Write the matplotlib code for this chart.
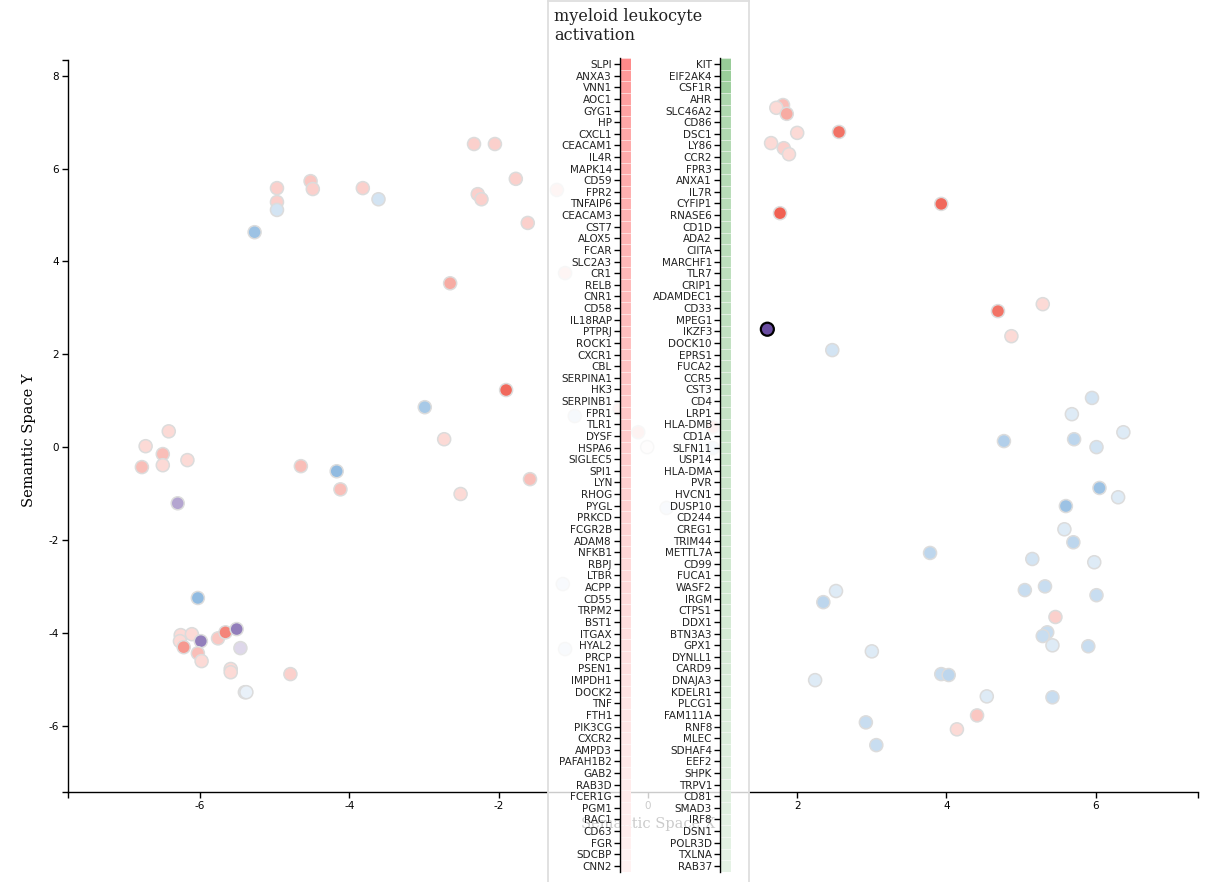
import matplotlib
matplotlib.use("Agg")
import matplotlib.pyplot as plt
import numpy as np

plt.rcParams["axes.unicode_minus"] = False

# ---------------- data ----------------
pt_x = [-4.97, -4.97, -4.97, -5.27, -4.52, -4.49, -3.82, -3.61, -2.33, -2.05,
        -1.77, -2.28, -2.23, -1.61, -2.65, -1.22, -1.11, -1.90, -2.99, -2.73,
        -4.65, -4.17, -4.12, -2.51, -1.58, -4.79, -0.98, -0.38, -0.13, -0.01,
        0.87, 0.87, 0.25, -1.14, -1.11,
        -6.73, -6.50, -6.78, -6.50, -6.17, -6.42, -6.30, -6.03, -6.26, -6.11,
        -6.27, -6.22, -5.99, -6.03, -5.98, -5.76, -5.66, -5.51, -5.46, -5.59,
        -5.59, -5.40, -5.38,
        1.81, 1.72, 1.86, 2.00, 2.56, 1.65, 1.82, 1.89, 1.77, 3.93,
        1.60, 2.47, 4.69, 5.29, 4.87,
        5.95, 5.68, 6.37, 4.77, 5.71, 6.01, 6.05, 6.30, 5.60, 5.58,
        5.70, 3.78, 5.15, 5.98, 2.52, 2.35, 5.05, 5.32, 6.01, 5.46,
        5.35, 5.29, 5.42, 5.90, 3.00, 2.24, 3.93, 4.03, 4.54, 5.42,
        4.41, 4.14, 2.92, 3.06]
pt_y = [5.58, 5.28, 5.11, 4.63, 5.73, 5.56, 5.58, 5.34, 6.53, 6.53,
        5.78, 5.45, 5.34, 4.83, 3.53, 5.54, 3.75, 1.23, 0.86, 0.17,
        -0.41, -0.52, -0.91, -1.01, -0.69, -4.89, 0.67, 0.82, 0.32, 0.00,
        0.43, -0.02, -1.31, -2.95, -4.35,
        0.02, -0.15, -0.43, -0.39, -0.28, 0.34, -1.21, -3.25, -4.05, -4.03,
        -4.18, -4.31, -4.18, -4.44, -4.61, -4.12, -3.99, -3.92, -4.33, -4.78,
        -4.85, -5.28, -5.28,
        7.37, 7.31, 7.18, 6.77, 6.79, 6.55, 6.44, 6.31, 5.04, 5.24,
        2.54, 2.09, 2.93, 3.08, 2.39,
        1.06, 0.71, 0.32, 0.13, 0.17, 0.00, -0.88, -1.08, -1.27, -1.77,
        -2.05, -2.28, -2.41, -2.48, -3.10, -3.34, -3.08, -3.00, -3.19, -3.66,
        -3.99, -4.07, -4.27, -4.29, -4.40, -5.02, -4.89, -4.91, -5.37, -5.39,
        -5.78, -6.08, -5.93, -6.42]
# direction: r = up (red), b = down (blue), p = mixed (purple)
pt_kind = ['r', 'r', 'b', 'b', 'r', 'r', 'r', 'b', 'r', 'r',
           'r', 'r', 'r', 'r', 'r', 'r', 'r', 'r', 'b', 'r',
           'r', 'b', 'r', 'r', 'r', 'r', 'b', 'r', 'r', 'r',
           'r', 'b', 'b', 'b', 'b',
           'r', 'r', 'r', 'r', 'r', 'r', 'p', 'b', 'r', 'r',
           'r', 'r', 'p', 'r', 'r', 'r', 'r', 'p', 'p', 'r',
           'r', 'b', 'b',
           'r', 'r', 'r', 'r', 'r', 'r', 'r', 'r', 'r', 'r',
           'p', 'b', 'r', 'r', 'r',
           'b', 'b', 'b', 'b', 'b', 'b', 'b', 'b', 'b', 'b',
           'b', 'b', 'b', 'b', 'b', 'b', 'b', 'b', 'b', 'r',
           'b', 'b', 'b', 'b', 'b', 'b', 'b', 'b', 'b', 'b',
           'r', 'r', 'b', 'b']
pt_strength = [0.25, 0.25, 0.20, 0.45, 0.30, 0.25, 0.25, 0.20, 0.25, 0.25,
               0.25, 0.25, 0.25, 0.25, 0.45, 0.25, 0.25, 0.80, 0.40, 0.20,
               0.35, 0.50, 0.35, 0.20, 0.35, 0.25, 0.20, 0.30, 0.30, 0.03,
               0.30, 0.20, 0.15, 0.15, 0.15,
               0.20, 0.35, 0.35, 0.20, 0.20, 0.20, 0.45, 0.50, 0.20, 0.20,
               0.20, 0.55, 0.65, 0.35, 0.20, 0.30, 0.65, 0.65, 0.20, 0.20,
               0.20, 0.15, 0.10,
               0.35, 0.20, 0.45, 0.20, 0.75, 0.20, 0.25, 0.20, 0.85, 0.80,
               0.90, 0.20, 0.75, 0.20, 0.20,
               0.20, 0.15, 0.15, 0.35, 0.30, 0.20, 0.45, 0.15, 0.45, 0.15,
               0.30, 0.30, 0.20, 0.15, 0.15, 0.30, 0.25, 0.25, 0.25, 0.25,
               0.25, 0.25, 0.15, 0.25, 0.15, 0.15, 0.25, 0.30, 0.15, 0.25,
               0.30, 0.20, 0.25, 0.25]
hovered_index = 68

panel_title = "myeloid leukocyte\nactivation"
up_genes = ["SLPI", "ANXA3", "VNN1", "AOC1", "GYG1", "HP", "CXCL1", "CEACAM1", "IL4R", "MAPK14",
            "CD59", "FPR2", "TNFAIP6", "CEACAM3", "CST7", "ALOX5", "FCAR", "SLC2A3", "CR1", "RELB",
            "CNR1", "CD58", "IL18RAP", "PTPRJ", "ROCK1", "CXCR1", "CBL", "SERPINA1", "HK3", "SERPINB1",
            "FPR1", "TLR1", "DYSF", "HSPA6", "SIGLEC5", "SPI1", "LYN", "RHOG", "PYGL", "PRKCD",
            "FCGR2B", "ADAM8", "NFKB1", "RBPJ", "LTBR", "ACPP", "CD55", "TRPM2", "BST1", "ITGAX",
            "HYAL2", "PRCP", "PSEN1", "IMPDH1", "DOCK2", "TNF", "FTH1", "PIK3CG", "CXCR2", "AMPD3",
            "PAFAH1B2", "GAB2", "RAB3D", "FCER1G", "PGM1", "RAC1", "CD63", "FGR", "SDCBP", "CNN2"]
up_values = [0.46, 0.40, 0.38, 0.37, 0.36, 0.35, 0.34, 0.33, 0.33, 0.32,
             0.32, 0.31, 0.31, 0.30, 0.30, 0.29, 0.29, 0.28, 0.28, 0.27,
             0.27, 0.26, 0.26, 0.25, 0.25, 0.24, 0.24, 0.23, 0.23, 0.22,
             0.22, 0.21, 0.21, 0.20, 0.20, 0.19, 0.19, 0.18, 0.18, 0.17,
             0.17, 0.16, 0.16, 0.15, 0.15, 0.15, 0.14, 0.14, 0.13, 0.13,
             0.12, 0.12, 0.12, 0.11, 0.11, 0.10, 0.10, 0.10, 0.09, 0.09,
             0.09, 0.08, 0.08, 0.08, 0.07, 0.07, 0.07, 0.06, 0.06, 0.05]
down_genes = ["KIT", "EIF2AK4", "CSF1R", "AHR", "SLC46A2", "CD86", "DSC1", "LY86", "CCR2", "FPR3",
              "ANXA1", "IL7R", "CYFIP1", "RNASE6", "CD1D", "ADA2", "CIITA", "MARCHF1", "TLR7", "CRIP1",
              "ADAMDEC1", "CD33", "MPEG1", "IKZF3", "DOCK10", "EPRS1", "FUCA2", "CCR5", "CST3", "CD4",
              "LRP1", "HLA-DMB", "CD1A", "SLFN11", "USP14", "HLA-DMA", "PVR", "HVCN1", "DUSP10", "CD244",
              "CREG1", "TRIM44", "METTL7A", "CD99", "FUCA1", "WASF2", "IRGM", "CTPS1", "DDX1", "BTN3A3",
              "GPX1", "DYNLL1", "CARD9", "DNAJA3", "KDELR1", "PLCG1", "FAM111A", "RNF8", "MLEC", "SDHAF4",
              "EEF2", "SHPK", "TRPV1", "CD81", "SMAD3", "IRF8", "DSN1", "POLR3D", "TXLNA", "RAB37"]
down_values = [0.44, 0.43, 0.41, 0.35, 0.34, 0.33, 0.33, 0.32, 0.32, 0.31,
               0.31, 0.30, 0.30, 0.30, 0.29, 0.29, 0.29, 0.28, 0.28, 0.28,
               0.27, 0.27, 0.27, 0.26, 0.26, 0.26, 0.25, 0.25, 0.25, 0.24,
               0.24, 0.24, 0.23, 0.23, 0.23, 0.22, 0.22, 0.22, 0.21, 0.21,
               0.21, 0.20, 0.20, 0.20, 0.19, 0.19, 0.19, 0.18, 0.18, 0.18,
               0.17, 0.17, 0.17, 0.16, 0.16, 0.16, 0.15, 0.15, 0.15, 0.14,
               0.14, 0.14, 0.13, 0.13, 0.13, 0.12, 0.12, 0.12, 0.11, 0.11]

# ---------------- styling helpers ----------------
END_COLORS = {'r': np.array([238, 68, 51]) / 255.0,
              'b': np.array([35, 119, 195]) / 255.0,
              'p': np.array([88, 56, 150]) / 255.0}


def tint(end, a):
    end = np.asarray(end, dtype=float)
    return tuple(1 - a * (1 - end))


W, H = 1207, 882
fig = plt.figure(figsize=(W / 100, H / 100), dpi=100)
fig.patch.set_facecolor("white")

ax = fig.add_axes([68 / W, (H - 792) / H, 1130 / W, 732 / H])
xmin, xmax = -7.77, 7.37
ymin, ymax = -7.43, 8.34
ax.set_xlim(xmin, xmax)
ax.set_ylim(ymin, ymax)

colors = [tint(END_COLORS[k], s) for k, s in zip(pt_kind, pt_strength)]
edges = ['#dcdcdc'] * len(pt_x)
lws = [1.1] * len(pt_x)
edges[hovered_index] = 'black'
lws[hovered_index] = 1.6
ax.scatter(pt_x, pt_y, s=88, c=colors, edgecolors=edges, linewidths=lws, zorder=3)

for side in ("top", "right"):
    ax.spines[side].set_visible(False)
ax.spines["left"].set_linewidth(1.0)
ax.spines["bottom"].set_linewidth(1.0)
ax.set_xticks([-6, -4, -2, 0, 2, 4, 6])
ax.set_yticks([-6, -4, -2, 0, 2, 4, 6, 8])
ax.set_xticks([xmin, xmax], minor=True)
ax.set_yticks([ymin, ymax], minor=True)
ax.tick_params(which="both", length=4.3, width=1.0, labelsize=7.5, pad=2.2,
               color="black", labelcolor="black")
ax.tick_params(which="minor", labelbottom=False, labelleft=False)
ax.set_xlabel("Semantic Space X", family="DejaVu Serif", fontsize=10.5)
ax.set_ylabel("Semantic Space Y", family="DejaVu Serif", fontsize=10.5)
ax.xaxis.set_label_coords((648 - 68) / 1130, -(817 - 792) / 732)
ax.yaxis.set_label_coords((36 - 68) / 1130, (792 - 440) / 732)

# ---------------- tooltip panel ----------------
pan = fig.add_axes([548 / W, -0.02, 201 / W, 1.02 - 1 / H])
pan.set_facecolor((1, 1, 1, 0.8))
pan.set_xticks([])
pan.set_yticks([])
for side in ("left", "right", "top"):
    pan.spines[side].set_color("#dedede")
    pan.spines[side].set_linewidth(1.3)
pan.spines["bottom"].set_visible(False)

fig.text(554 / W, 1 - 8 / H, panel_title, family="DejaVu Serif", fontsize=11.6,
         va="top", ha="left", color="#222222", linespacing=1.12)

n = len(up_genes)
bar_bottom = (H - 871.8) / H
bar_height = 813.6 / H


def gene_bar(left_px, genes, values, end):
    b = fig.add_axes([left_px / W, bar_bottom, 11 / W, bar_height])
    b.set_facecolor("none")
    pos = np.arange(len(genes))
    b.barh(pos, [1] * len(genes), height=1.0,
           color=[tint(end, v) for v in values],
           edgecolor=(1, 1, 1, 0.6), linewidth=0.4)
    b.set_xlim(0, 1)
    b.set_ylim(len(genes) - 0.5, -0.5)
    b.set_yticks(pos)
    b.set_yticklabels(genes)
    b.set_xticks([])
    for side in ("top", "right", "bottom"):
        b.spines[side].set_visible(False)
    b.spines["left"].set_linewidth(1.0)
    b.tick_params(axis="y", length=4.3, width=1.0, pad=1.5, labelsize=7.5,
                  labelcolor="#222222")
    return b


gene_bar(620, up_genes, up_values, np.array([255, 0, 0]) / 255.0)
gene_bar(720, down_genes, down_values, np.array([20, 140, 20]) / 255.0)

fig.savefig("out.png", dpi=100, facecolor="white")
